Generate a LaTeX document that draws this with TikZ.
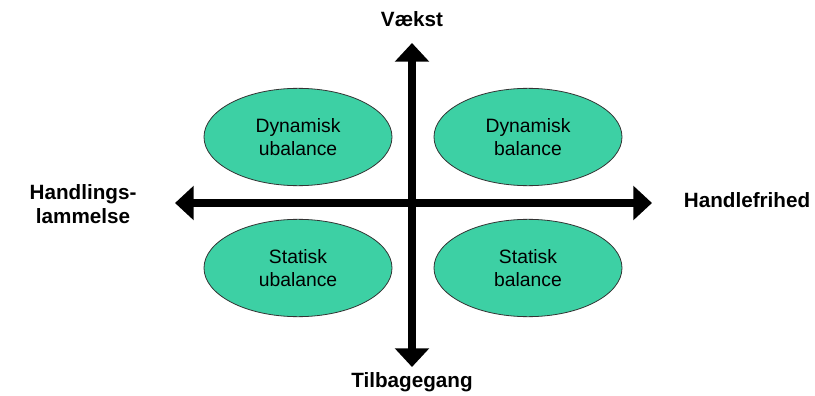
\documentclass[tikz,border=0pt]{standalone}
\usepackage{fontspec}
\setmainfont{Liberation Sans}
\usetikzlibrary{arrows.meta,shapes.geometric}
\definecolor{quadgreen}{HTML}{3DD0A4}
\begin{document}
\begin{tikzpicture}[x=0.75pt, y=-0.75pt,
    quad node/.style={ellipse,draw=black!80,line width=0.6pt,fill=quadgreen,minimum width=141pt,minimum height=73pt,inner sep=0pt,align=center,font=\fontsize{14.5}{17}\selectfont},
    axis label/.style={font=\fontsize{15.5}{17.5}\selectfont\bfseries,align=center},
    axis/.style={line width=6pt,-{Triangle[length=14pt,width=25pt]}}]
    \useasboundingbox (0,0) rectangle (815,396);

    \node[quad node] at (298, 137) (dynub) {Dynamisk\\ubalance};
    \node[quad node] at (528, 137) (dynbal) {Dynamisk\\balance};
    \node[quad node] at (298, 268) (statub) {Statisk\\ubalance};
    \node[quad node] at (528, 268) (statbal) {Statisk\\balance};

    \coordinate (centre) at (412, 203);
    \coordinate (north) at (412, 43);
    \coordinate (south) at (412, 367);
    \coordinate (west) at (175, 203);
    \coordinate (east) at (652, 203);

    \draw[axis] (centre) -- (north);
    \draw[axis] (centre) -- (south);
    \draw[axis] (centre) -- (west);
    \draw[axis] (centre) -- (east);
    \fill (centre) circle (3pt);

    \node[axis label] at (412, 19) (vaekst) {Vækst};
    \node[axis label] at (412, 382) (tilbage) {Tilbagegang};
    \node[axis label] at (747, 200) (frihed) {Handlefrihed};
    \node[axis label] at (83, 204) (lammelse) {Handlings-\\lammelse};
\end{tikzpicture}
\end{document}
